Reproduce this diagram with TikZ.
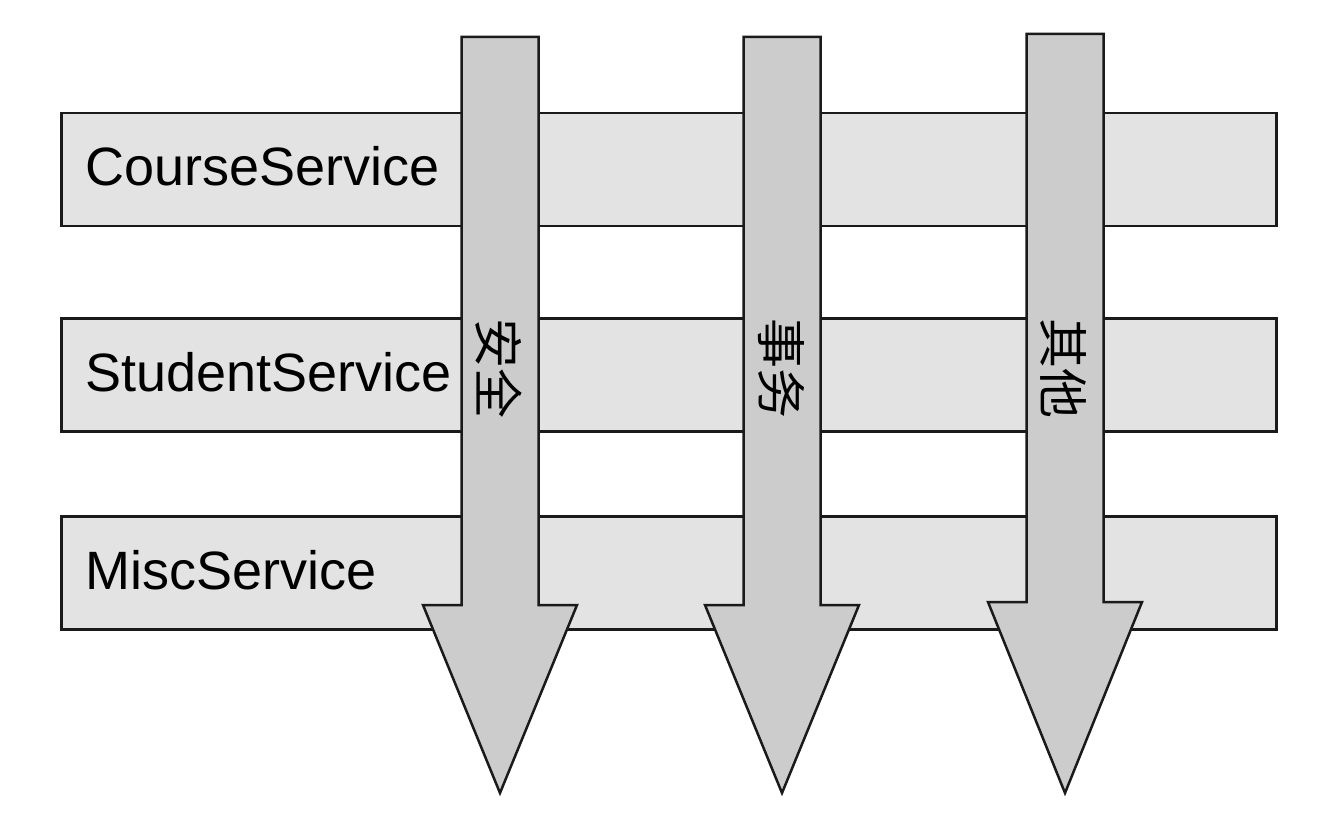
\documentclass[tikz,border=0pt]{standalone}
\usepackage{fontspec}
\setmainfont{Liberation Sans}
\newfontfamily\cjk{Noto Sans CJK SC}
\usepackage{tikz}
\usetikzlibrary{positioning}
\definecolor{barGri}{HTML}{E3E3E3}
\definecolor{okGri}{HTML}{CCCCCC}
\definecolor{cizgi}{HTML}{1A1A1A}

\begin{document}
\begin{tikzpicture}[x=1pt,y=-1pt,
  svcbar/.style={draw=cizgi,fill=barGri,line width=2.5pt,minimum width=1215pt,minimum height=113pt,inner sep=0pt,anchor=north west},
  svclabel/.style={font=\fontsize{54}{60}\selectfont,inner sep=0pt,anchor=base west},
  aspect/.style={draw=cizgi,fill=okGri,line width=2.5pt,line join=miter},
  aspectlabel/.style={font=\cjk\fontsize{50}{56}\selectfont,rotate=-90,inner sep=0pt}]
\useasboundingbox (0,0) rectangle (1331,813);
% servis katmanlari
\node[svcbar] (course) at (60,112) {};
\node[svcbar] (student) at (60,317) {};
\node[svcbar] (misc) at (60,515) {};
\node[svclabel] (courselbl) at (85,186) {CourseService};
\node[svclabel] (studentlbl) at (85,391) {StudentService};
\node[svclabel] (misclbl) at (85,589) {MiscService};
% kesen ilgiler: merkez x / ust y / bas y / yazi
\foreach \cx/\ty/\hy/\lbl in {500/37/605/安全,782/37/605/事务,1065/34/602/其他} {
  \draw[aspect] ({\cx-38.5},\ty) -- ({\cx+38.5},\ty) -- ({\cx+38.5},\hy) -- ({\cx+77},\hy)
    -- (\cx,793) -- ({\cx-77},\hy) -- ({\cx-38.5},\hy) -- cycle;
  \node[aspectlabel] at ({\cx-1},368) {\lbl};
}
\end{tikzpicture}
\end{document}
